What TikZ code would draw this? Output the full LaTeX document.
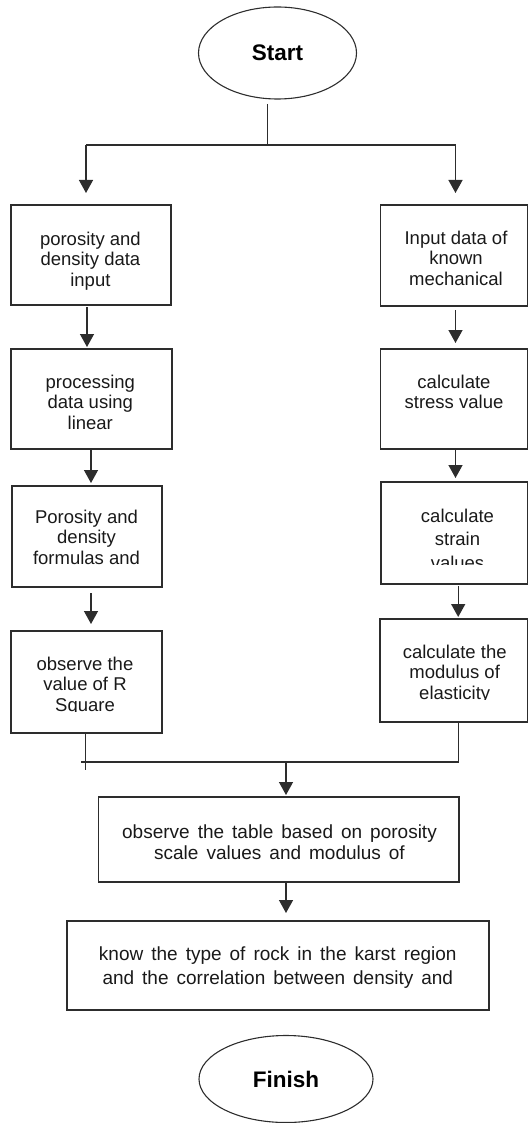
\documentclass[tikz,border=0pt]{standalone}
\usepackage{fontspec}
\setmainfont{Liberation Sans}
\usetikzlibrary{arrows.meta,shapes.geometric}
\definecolor{lc}{RGB}{45,45,45}
\newcommand{\mystrut}{\rule{0pt}{14pt}}
\newcommand{\wideA}{\fontsize{19}{21}\selectfont\spaceskip=8pt\relax}
\newcommand{\wideB}{\fontsize{19}{24}\selectfont\spaceskip=8pt\relax}
\tikzset{
  ln/.style={draw=lc, line width=1.4pt},
  arr/.style={ln, -{Triangle[width=14pt,length=13pt]}},
  boxn/.style={draw=lc, line width=1.4pt, rectangle, inner sep=0pt},
  txt/.style={anchor=north, inner sep=0pt, align=center, text=black!90,
              font=\fontsize{18.5}{20.5}\selectfont},
  oval/.style={draw=lc, line width=1.1pt, ellipse, inner sep=0pt, text=black,
               font=\bfseries\fontsize{22.5}{24}\selectfont},
}
\begin{document}
\begin{tikzpicture}[x=1pt,y=-1pt]
\useasboundingbox (0,0) rectangle (529,1123);

% terminals
\node[oval, minimum width=158pt, minimum height=92pt] (start) at (277.5,53) {Start};
\node[oval, minimum width=174pt, minimum height=87pt] (finish) at (286,1079) {Finish};

% boxes
\node[boxn, minimum width=160pt, minimum height=100pt] (L1) at (91,255) {};
\node[boxn, minimum width=161pt, minimum height=100pt] (L2) at (91.5,399) {};
\node[boxn, minimum width=150pt, minimum height=101pt] (L3) at (87,536.5) {};
\node[boxn, minimum width=151pt, minimum height=102pt] (L4) at (86.5,682) {};
\node[boxn, minimum width=147pt, minimum height=101pt] (R1) at (454,255.5) {};
\node[boxn, minimum width=147pt, minimum height=100pt] (R2) at (454,399) {};
\node[boxn, minimum width=146.5pt, minimum height=102pt] (R3) at (454.25,533) {};
\node[boxn, minimum width=147.5pt, minimum height=103pt] (R4) at (453.75,670.5) {};
\node[boxn, minimum width=360.5pt, minimum height=85pt] (B1) at (278.75,839.5) {};
\node[boxn, minimum width=422pt, minimum height=89pt] (B2) at (278,965.5) {};

% texts
\node[txt] (tL1) at (90.4,231) {\mystrut porosity and\\density data\\input};
\node[txt] (tL2) at (90.3,374) {\mystrut processing\\data using\\linear};
\node[txt] (tL3) at (86.5,509) {\mystrut Porosity and\\density\\formulas and};
\begin{scope}
  \clip (12,640) rectangle (161,711.5);
  \node[txt] (tL4) at (85,656) {\mystrut observe the\\value of R\\Square};
\end{scope}
\node[txt] (tR1) at (456,230) {\mystrut Input data of\\known\\mechanical};
\node[txt] (tR2) at (454,374) {\mystrut calculate\\stress value};
\begin{scope}
  \clip (382,490) rectangle (527,564);
  \node[txt, font=\fontsize{18.5}{23.5}\selectfont] (tR3) at (457.5,508) {\mystrut calculate\\strain\\values};
\end{scope}
\begin{scope}
  \clip (381,628) rectangle (527,699.5);
  \node[txt] (tR4) at (454.7,644) {\mystrut calculate the\\modulus of\\elasticity};
\end{scope}
\node[txt, font=\wideA] (tB1) at (279.5,824) {\mystrut observe the table based on porosity\\scale values and modulus of};
\node[txt, font=\wideB] (tB2) at (277.8,946) {\mystrut know the type of rock in the karst region\\and the correlation between density and};

% connector points
\coordinate (s0) at (267.7,104);
\coordinate (s1) at (267.7,145);
\coordinate (jl) at (86,145);
\coordinate (jr) at (455.5,145);
\coordinate (aL1) at (86,193);
\coordinate (aR1) at (455.5,193);
\coordinate (a3s) at (87,307);   \coordinate (a3e) at (87,347);
\coordinate (a4s) at (91,450);   \coordinate (a4e) at (91,483);
\coordinate (a5s) at (91,593);   \coordinate (a5e) at (91,624);
\coordinate (a6s) at (455.5,310); \coordinate (a6e) at (455.5,343);
\coordinate (a7s) at (455.5,450); \coordinate (a7e) at (455.5,478);
\coordinate (a8s) at (458.2,586); \coordinate (a8e) at (458.2,617);
\coordinate (m0) at (85.4,733);  \coordinate (m1) at (85.4,770);
\coordinate (r0) at (458.5,722); \coordinate (r1) at (458.5,762);
\coordinate (ml) at (81,762);
\coordinate (mj) at (286,762);   \coordinate (a9e) at (286,795);
\coordinate (a10s) at (286,882); \coordinate (a10e) at (286,913);

% connectors
\draw[ln] (s0) -- (s1);
\draw[ln] (jl) -- (jr);
\draw[arr] (jl) -- (aL1);
\draw[arr] (jr) -- (aR1);
\draw[arr] (a3s) -- (a3e);
\draw[arr] (a4s) -- (a4e);
\draw[arr] (a5s) -- (a5e);
\draw[arr] (a6s) -- (a6e);
\draw[arr] (a7s) -- (a7e);
\draw[arr] (a8s) -- (a8e);
\draw[ln] (m0) -- (m1);
\draw[ln] (r0) -- (r1) -- (ml);
\draw[arr] (mj) -- (a9e);
\draw[arr] (a10s) -- (a10e);
\end{tikzpicture}
\end{document}
